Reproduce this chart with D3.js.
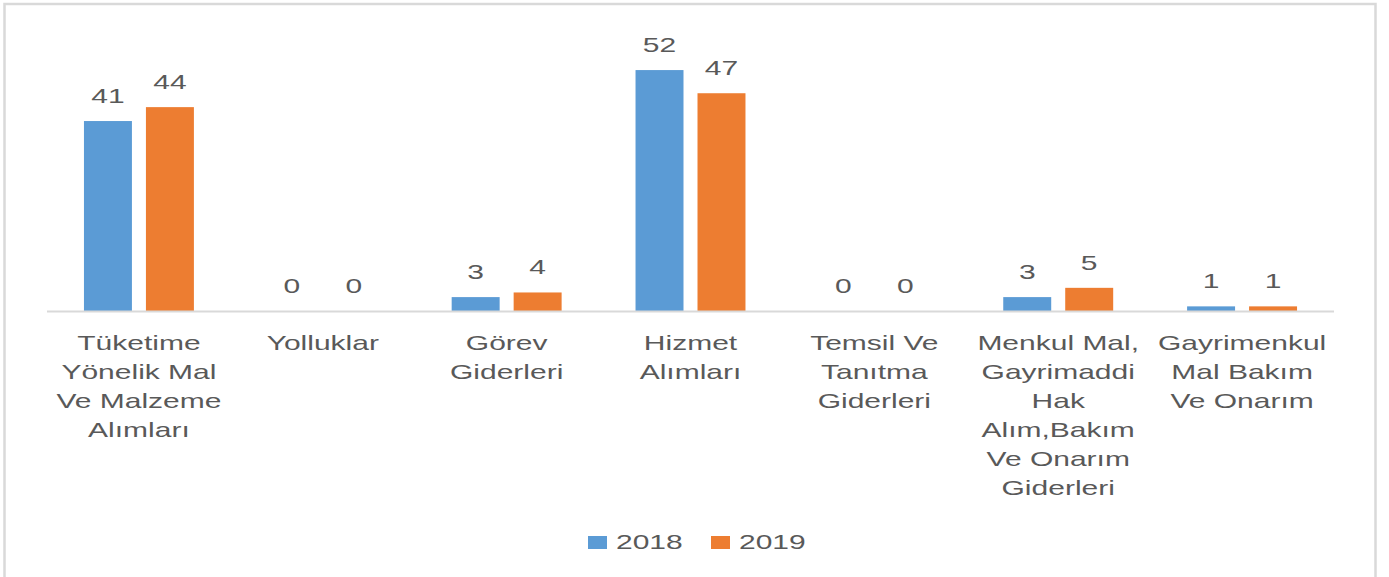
<!DOCTYPE html>
<html>
<head>
<meta charset="utf-8">
<script src="https://cdn.jsdelivr.net/npm/d3@7"></script>
<style>
  body { margin: 0; background: #fff; }
  text { font-family: "Liberation Sans", Arial, sans-serif; fill: #595959; }
</style>
</head>
<body>
<div id="main"></div>
<script>
/*********************************************************
 * Data
 *********************************************************/
const categories = [
  'Tüketime Yönelik Mal Ve Malzeme Alımları',
  'Yolluklar',
  'Görev Giderleri',
  'Hizmet Alımları',
  'Temsil Ve Tanıtma Giderleri',
  'Menkul Mal, Gayrimaddi Hak Alım,Bakım Ve Onarım Giderleri',
  'Gayrimenkul Mal Bakım Ve Onarım'
];
// wrapped lines as they appear under the axis
const categoryLines = [
  ['Tüketime', 'Yönelik Mal', 'Ve Malzeme', 'Alımları'],
  ['Yolluklar'],
  ['Görev', 'Giderleri'],
  ['Hizmet', 'Alımları'],
  ['Temsil Ve', 'Tanıtma', 'Giderleri'],
  ['Menkul Mal,', 'Gayrimaddi', 'Hak', 'Alım,Bakım', 'Ve Onarım', 'Giderleri'],
  ['Gayrimenkul', 'Mal Bakım', 'Ve Onarım']
];
const seriesNames = ['2018', '2019'];
const values2018 = [41, 0, 3, 52, 0, 3, 1];
const values2019 = [44, 0, 4, 47, 0, 5, 1];
const seriesColors = ['#5b9bd5', '#ed7d31'];

/*********************************************************
 * Layout
 *********************************************************/
const svgWidth = 1389;
const svgHeight = 577;
const plot = { l: 47, r: 1334, t: 33, b: 311 };
const textStretch = 1.5; // the source text is drawn wide

const svg = d3.select('#main')
  .append('svg')
  .attr('width', svgWidth)
  .attr('height', svgHeight);

// chart frame
svg.append('rect')
  .attr('x', 4.5)
  .attr('y', 4)
  .attr('width', 1371)
  .attr('height', 600)
  .attr('fill', 'none')
  .attr('stroke', '#d9d9d9')
  .attr('stroke-width', 2.5);

/*********************************************************
 * Scales
 *********************************************************/
const x0 = d3.scaleBand()
  .domain(categories)
  .range([plot.l, plot.r])
  .paddingInner(0.402)
  .paddingOuter(0.201);

const x1 = d3.scaleBand()
  .domain(seriesNames)
  .range([0, x0.bandwidth()])
  .paddingInner(0.226);

const y = d3.scaleLinear()
  .domain([0, 60])
  .range([plot.b, plot.t]);

const rows = categories.map((c, i) => ({
  cat: c,
  vals: [
    { s: seriesNames[0], v: values2018[i], color: seriesColors[0] },
    { s: seriesNames[1], v: values2019[i], color: seriesColors[1] }
  ]
}));

/*********************************************************
 * Bars and labels
 *********************************************************/
const groups = svg.selectAll('.group')
  .data(rows)
  .enter().append('g')
  .attr('class', 'group')
  .attr('transform', d => `translate(${x0(d.cat)},0)`);

groups.selectAll('rect')
  .data(d => d.vals)
  .enter().append('rect')
  .attr('x', d => x1(d.s))
  .attr('y', d => y(d.v))
  .attr('width', x1.bandwidth())
  .attr('height', d => y(0) - y(d.v))
  .attr('fill', d => d.color);

groups.selectAll('.val')
  .data(d => d.vals)
  .enter().append('text')
  .attr('class', 'val')
  .attr('text-anchor', 'middle')
  .attr('font-size', 20)
  .attr('transform', d => `translate(${x1(d.s) + x1.bandwidth() / 2},${y(d.v) - 18}) scale(${textStretch},1)`)
  .text(d => d.v);

// category axis
svg.append('line')
  .attr('x1', plot.l)
  .attr('x2', plot.r)
  .attr('y1', y(0) + 0.5)
  .attr('y2', y(0) + 0.5)
  .attr('stroke', '#d9d9d9')
  .attr('stroke-width', 2);

categories.forEach((c, i) => {
  const cx = x0(c) + x0.bandwidth() / 2;
  categoryLines[i].forEach((line, j) => {
    svg.append('text')
      .attr('text-anchor', 'middle')
      .attr('font-size', 20)
      .attr('transform', `translate(${cx},${350 + j * 29}) scale(${textStretch},1)`)
      .text(line);
  });
});

/*********************************************************
 * Legend
 *********************************************************/
const legendX = [588, 711];
const legend = svg.selectAll('.legend')
  .data(seriesNames)
  .enter().append('g')
  .attr('class', 'legend')
  .attr('transform', (d, i) => `translate(${legendX[i]},536)`);

legend.append('rect')
  .attr('width', 19)
  .attr('height', 13)
  .attr('fill', (d, i) => seriesColors[i]);

legend.append('text')
  .attr('font-size', 20)
  .attr('transform', `translate(28,12.5) scale(${textStretch},1)`)
  .text(d => d);
</script>
</body>
</html>
